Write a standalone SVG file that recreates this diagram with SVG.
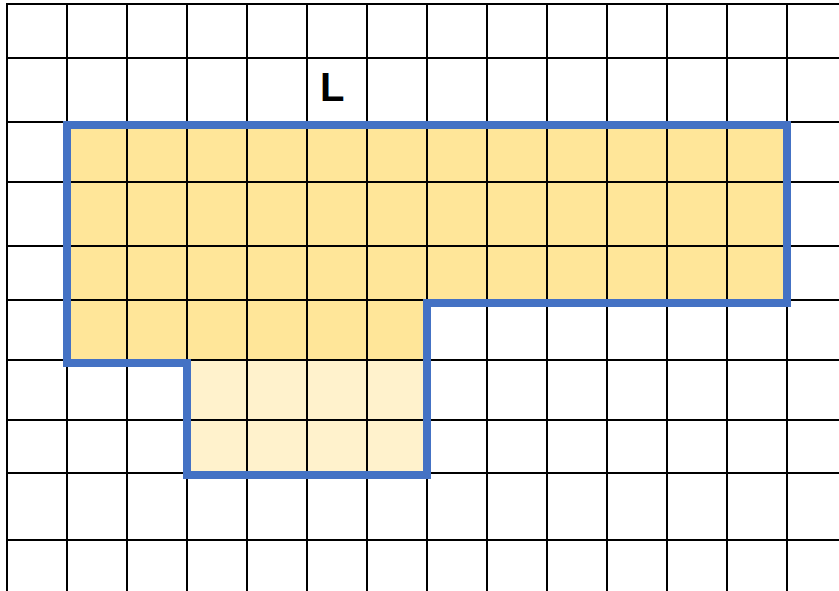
<svg xmlns="http://www.w3.org/2000/svg" width="839" height="591" viewBox="0 0 839 591">
<style>
.grid line{stroke:#000;stroke-width:2}
.dark{fill:#FFE699}
.light{fill:#FFF2CC}
.outline{fill:none;stroke:#4472C4;stroke-width:8;stroke-linejoin:miter}
.lbl{font-family:"Liberation Sans",Arial,sans-serif;font-weight:bold;font-size:40px;fill:#000}
</style>
<rect width="839" height="591" fill="#fff"/>
<g id="fill">
<path class="dark" d="M67,125 H787 V303 H427 V360 H67 Z"/>
<rect class="light" x="187" y="360" width="240" height="115"/>
</g>
<g id="grid" class="grid">
<line x1="7" y1="4" x2="7" y2="591"/>
<line x1="67" y1="4" x2="67" y2="591"/>
<line x1="127" y1="4" x2="127" y2="591"/>
<line x1="187" y1="4" x2="187" y2="591"/>
<line x1="247" y1="4" x2="247" y2="591"/>
<line x1="307" y1="4" x2="307" y2="591"/>
<line x1="367" y1="4" x2="367" y2="591"/>
<line x1="427" y1="4" x2="427" y2="591"/>
<line x1="487" y1="4" x2="487" y2="591"/>
<line x1="547" y1="4" x2="547" y2="591"/>
<line x1="607" y1="4" x2="607" y2="591"/>
<line x1="667" y1="4" x2="667" y2="591"/>
<line x1="727" y1="4" x2="727" y2="591"/>
<line x1="787" y1="4" x2="787" y2="591"/>
<line x1="6" y1="4" x2="839" y2="4"/>
<line x1="6" y1="58" x2="839" y2="58"/>
<line x1="6" y1="122" x2="839" y2="122"/>
<line x1="6" y1="182" x2="839" y2="182"/>
<line x1="6" y1="246" x2="839" y2="246"/>
<line x1="6" y1="300" x2="839" y2="300"/>
<line x1="6" y1="360" x2="839" y2="360"/>
<line x1="6" y1="420" x2="839" y2="420"/>
<line x1="6" y1="473" x2="839" y2="473"/>
<line x1="6" y1="540" x2="839" y2="540"/>
</g>
<g id="shape-outline">
<path class="outline" d="M67,125 H787 V303 H427 V475 H187 V363 H67 Z"/>
</g>
<g id="label-L">
<text class="lbl" x="320" y="101">L</text>
</g>
</svg>
